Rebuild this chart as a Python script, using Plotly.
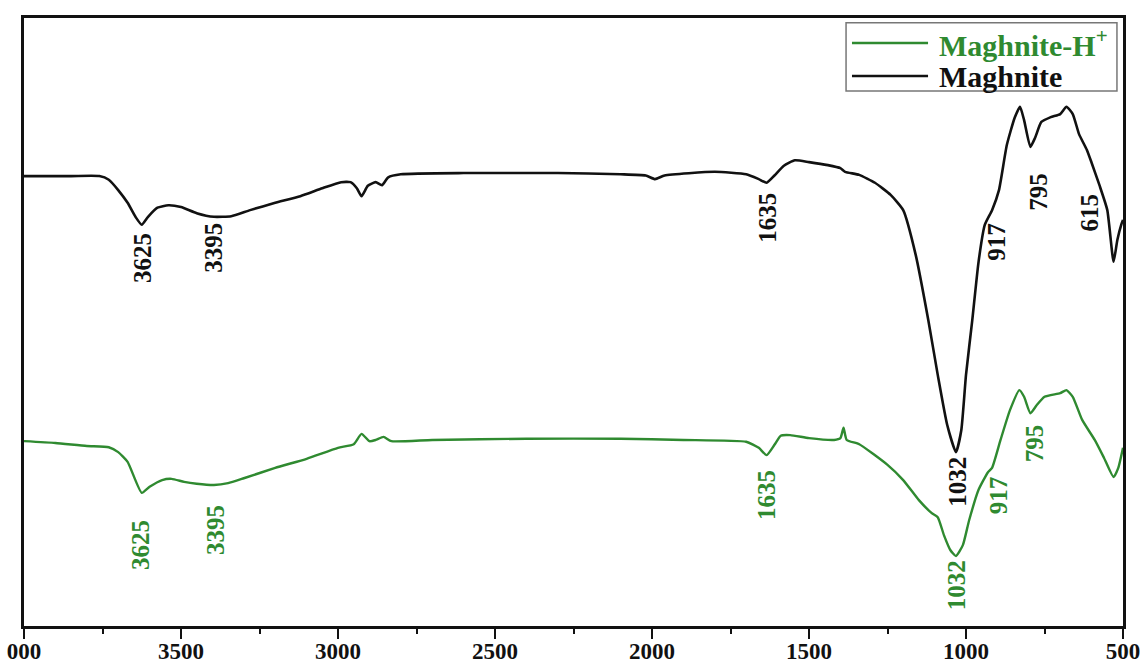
import plotly.graph_objects as go

# FTIR spectra: wavenumber (cm-1) and relative transmittance (a.u.)
wn_maghnite = [4000, 3850, 3760, 3730, 3700, 3670, 3645, 3625, 3605, 3575, 3540, 3500,
               3450, 3395, 3340, 3280, 3200, 3120, 3050, 2990, 2960, 2940, 2925, 2905,
               2880, 2860, 2840, 2800, 2600, 2300, 2100, 2020, 1990, 1960, 1800, 1700,
               1660, 1635, 1610, 1580, 1545, 1500, 1440, 1400, 1385, 1340, 1290, 1240,
               1200, 1160, 1120, 1090, 1060, 1032, 1015, 1000, 980, 960, 940, 917,
               895, 870, 845, 828, 815, 795, 780, 760, 730, 700, 680, 660, 640, 615,
               600, 575, 550, 530, 518, 505, 500]
t_maghnite = [74.0, 74.0, 74.0, 73.4, 71.7, 69.6, 67.3, 66.0, 67.3, 68.8, 69.2, 68.9,
              67.9, 67.3, 67.4, 68.4, 69.6, 70.7, 72.0, 73.0, 73.0, 72.0, 70.7, 72.4,
              73.0, 72.5, 73.8, 74.3, 74.5, 74.5, 74.3, 74.1, 73.5, 74.1, 74.7, 74.3,
              73.5, 72.9, 74.1, 75.7, 76.6, 76.3, 75.8, 75.3, 74.7, 74.2, 72.9, 70.9,
              68.4, 61.0, 50.3, 41.3, 33.1, 28.6, 32.2, 41.3, 50.3, 59.9, 66.0, 68.4,
              71.7, 79.1, 83.6, 85.4, 83.2, 78.8, 80.3, 82.9, 83.7, 84.2, 85.4, 84.2,
              80.9, 78.3, 76.2, 72.5, 68.4, 59.9, 63.5, 66.1, 66.8]

wn_maghnite_h = [4000, 3900, 3800, 3730, 3700, 3670, 3625, 3600, 3560, 3530, 3490, 3450,
                 3395, 3350, 3300, 3200, 3100, 3000, 2950, 2925, 2900, 2880, 2855, 2830,
                 2700, 2400, 2100, 1900, 1700, 1660, 1635, 1610, 1590, 1560, 1500, 1420,
                 1400, 1390, 1380, 1340, 1250, 1200, 1150, 1110, 1090, 1070, 1050, 1032,
                 1010, 990, 960, 930, 917, 890, 860, 830, 815, 795, 775, 750, 700, 680,
                 660, 630, 590, 560, 530, 515, 500]
t_maghnite_h = [30.4, 30.1, 29.6, 29.4, 28.6, 27.0, 21.9, 22.9, 24.0, 24.2, 23.7, 23.4,
                23.2, 23.5, 24.3, 26.0, 27.5, 29.3, 29.9, 31.6, 30.4, 30.6, 31.1, 30.4,
                30.6, 30.8, 30.8, 30.6, 30.3, 29.3, 28.1, 29.8, 31.3, 31.4, 30.9, 30.6,
                30.9, 32.6, 30.6, 29.9, 26.5, 24.0, 20.7, 18.6, 17.9, 14.9, 12.5, 11.5,
                13.3, 17.4, 22.4, 25.3, 26.0, 30.6, 35.5, 38.8, 37.7, 35.0, 36.3, 37.7,
                38.3, 38.8, 37.7, 33.9, 30.6, 27.6, 24.5, 26.0, 29.3]

# Band assignments: (wavenumber, label height, horizontal nudge in px)
bands_maghnite = [(3625, 60.5, 0), (3395, 62.2, 0), (1635, 67.1, 0), (1032, 23.7, 2),
                  (917, 63.2, 5), (795, 71.5, 8), (615, 68.0, 3)]
bands_maghnite_h = [(3625, 13.3, -2), (3395, 15.8, 2), (1635, 21.5, 0), (1032, 6.7, 0),
                    (917, 21.5, 6), (795, 30.1, 5)]

tick_vals = [4000, 3500, 3000, 2500, 2000, 1500, 1000, 500]
tick_text = ["000", "3500", "3000", "2500", "2000", "1500", "1000", "500"]
minor_vals = [3750, 3250, 2750, 2250, 1750, 1250, 750]

GREEN = "#2f8a30"
BLACK = "#111111"
SERIF = "Liberation Serif"

fig = go.Figure()
fig.add_trace(go.Scatter(x=wn_maghnite_h, y=t_maghnite_h, mode="lines",
                         line=dict(color=GREEN, width=2.4, shape="spline", smoothing=0.5),
                         name="Maghnite-H+", showlegend=False))
fig.add_trace(go.Scatter(x=wn_maghnite, y=t_maghnite, mode="lines",
                         line=dict(color=BLACK, width=2.6, shape="spline", smoothing=0.5),
                         name="Maghnite", showlegend=False))

annotations = []
for wn, yy, dx in bands_maghnite:
    annotations.append(dict(x=wn, y=yy, xref="x", yref="y", text=f"<b>{wn}</b>",
                            showarrow=False, textangle=-90, xshift=dx,
                            font=dict(family=SERIF, size=25, color=BLACK)))
for wn, yy, dx in bands_maghnite_h:
    annotations.append(dict(x=wn, y=yy, xref="x", yref="y", text=f"<b>{wn}</b>",
                            showarrow=False, textangle=-90, xshift=dx,
                            font=dict(family=SERIF, size=25, color=GREEN)))

# Legend box drawn in paper space
legend_items = [("Maghnite-H<sup>+</sup>", GREEN, 0.9589), ("Maghnite", BLACK, 0.9046)]
shapes = [dict(type="rect", xref="paper", yref="paper", x0=0.748, x1=0.9945,
               y0=0.880, y1=0.992, line=dict(color="#777777", width=1.5),
               fillcolor="white", layer="above")]
for label, col, yy in legend_items:
    shapes.append(dict(type="line", xref="paper", yref="paper", x0=0.7534, x1=0.8226,
                       y0=yy, y1=yy, line=dict(color=col, width=2.6), layer="above"))
    annotations.append(dict(x=0.8308, y=yy, xref="paper", yref="paper", xanchor="left",
                            yanchor="middle", showarrow=False, text=f"<b>{label}</b>",
                            font=dict(family=SERIF, size=30, color=col)))

fig.update_layout(
    width=1143, height=663,
    margin=dict(l=24, r=20, t=18, b=37),
    paper_bgcolor="white", plot_bgcolor="white",
    annotations=annotations, shapes=shapes,
    xaxis=dict(range=[4000, 500], showgrid=False, zeroline=False, automargin=False,
               showline=True, mirror=True, linecolor=BLACK, linewidth=2.6,
               tickmode="array", tickvals=tick_vals, ticktext=tick_text,
               ticks="outside", ticklen=10, tickwidth=2.4, tickcolor=BLACK,
               ticklabelstandoff=-7,
               tickfont=dict(family=SERIF, size=23, color=BLACK, weight="bold"),
               minor=dict(tickvals=minor_vals, ticks="outside", ticklen=5,
                          tickwidth=2.2, tickcolor=BLACK, showgrid=False)),
    yaxis=dict(range=[0, 100], showgrid=False, zeroline=False, showticklabels=False,
               automargin=False,
               showline=True, mirror=True, linecolor=BLACK, linewidth=2.6, ticks=""),
)

fig.write_html("out.html")
